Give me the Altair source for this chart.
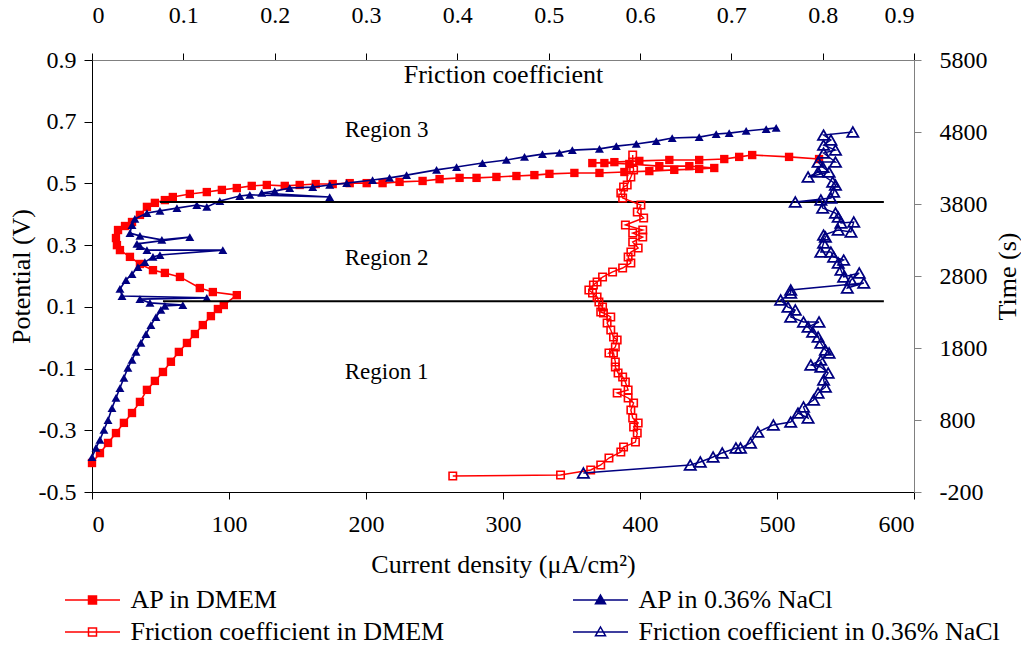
import altair as alt
import pandas as pd

FONT = "Liberation Serif"

# ---------------- data ----------------
# Anodic polarisation in DMEM: current density (uA/cm2) vs potential (V)
ap_dmem_cd = [0, 5.8, 11.7, 17.5, 23.3, 29.2, 35, 40.1, 45.9, 51.8, 57.6, 63.4, 69.3, 75.1, 80.9, 86.8, 91.9, 96.2,
              105.7, 88.2, 78.7, 64.2, 53.2, 44.5, 35, 27.7, 20.4, 18.2, 17.5, 19, 24.1, 29.2, 35, 40.1, 45.9, 53.2, 59,
              71.4, 83.8, 94.8, 105.7, 116.6, 127.6, 140.7, 151.6, 163.3, 175.7, 188.1, 200.5, 212.1, 224.5, 241.3,
              253.7, 268.3, 280.7, 295.2, 309.8, 322.9, 333.9, 352.1, 370.4, 388.6, 406.8, 425, 443.2, 454.2, 436,
              414.1, 392.2, 374, 365.2, 381.3, 399.5, 421.4, 443.2, 461.5, 472.4, 481.9, 508.8, 530.7]
ap_dmem_pot = [-0.406, -0.374, -0.341, -0.309, -0.276, -0.244, -0.208, -0.169, -0.140, -0.111, -0.078, -0.046,
               -0.017, 0.012, 0.041, 0.070, 0.093, 0.106, 0.138, 0.148, 0.161, 0.197, 0.210, 0.219, 0.239, 0.262,
               0.284, 0.300, 0.323, 0.349, 0.362, 0.375, 0.398, 0.424, 0.437, 0.446, 0.456, 0.466, 0.472, 0.479,
               0.485, 0.492, 0.495, 0.492, 0.495, 0.498, 0.498, 0.501, 0.501, 0.501, 0.505, 0.508, 0.514, 0.518,
               0.518, 0.521, 0.524, 0.527, 0.531, 0.534, 0.534, 0.537, 0.540, 0.544, 0.547, 0.550, 0.556, 0.556,
               0.563, 0.566, 0.566, 0.569, 0.573, 0.576, 0.576, 0.579, 0.586, 0.592, 0.586, 0.579]

# Anodic polarisation in 0.36% NaCl
ap_nacl_cd = [0, 2.9, 5.8, 8.7, 11.7, 14.6, 17.5, 20.4, 23.3, 26.2, 29.2, 32.1, 35.7, 39.4, 43, 46.7, 50.3, 53.2,
              66.3, 42.3, 35, 83.8, 21.9, 20.4, 24.8, 29.2, 33.5, 38.6, 44.5, 49.6, 95.5, 40.1, 35, 32.8, 71.4, 51,
              35, 27.7, 29.2, 31.3, 40.1, 49.6, 62, 76.5, 83.8, 93.3, 107.9, 115.2, 173.5, 123.9, 133.4, 144.3,
              161.1, 173.5, 185.9, 204.8, 217.2, 229.6, 251.5, 266.1, 285, 302.5, 315.7, 328.8, 341.2, 350.6,
              370.4, 382.7, 397.3, 411.9, 423.5, 443.2, 455.6, 465.1, 477.5, 492.1, 499.4]
ap_nacl_pot = [-0.387, -0.357, -0.331, -0.299, -0.267, -0.228, -0.195, -0.163, -0.130, -0.098, -0.072, -0.046,
               -0.017, 0.012, 0.041, 0.067, 0.090, 0.103, 0.106, 0.113, 0.125, 0.129, 0.135, 0.158, 0.187, 0.206,
               0.229, 0.245, 0.262, 0.268, 0.284, 0.284, 0.297, 0.304, 0.326, 0.317, 0.330, 0.339, 0.365, 0.385,
               0.404, 0.411, 0.420, 0.430, 0.424, 0.443, 0.459, 0.463, 0.456, 0.469, 0.475, 0.485, 0.488, 0.495,
               0.501, 0.511, 0.518, 0.527, 0.544, 0.553, 0.566, 0.576, 0.586, 0.595, 0.599, 0.608, 0.612, 0.621,
               0.628, 0.637, 0.647, 0.650, 0.660, 0.663, 0.670, 0.676, 0.680]

# Friction coefficient in DMEM vs time (s)
fr_dmem_f = [0.395, 0.513, 0.546, 0.557, 0.566, 0.579, 0.582, 0.595, 0.597, 0.593, 0.598, 0.592, 0.590, 0.593,
             0.587, 0.575, 0.587, 0.584, 0.581, 0.576, 0.573, 0.573, 0.571, 0.566, 0.573, 0.575, 0.571, 0.568,
             0.564, 0.568, 0.560, 0.557, 0.559, 0.555, 0.553, 0.548, 0.544, 0.549, 0.553, 0.559, 0.570, 0.581,
             0.590, 0.587, 0.590, 0.598, 0.592, 0.603, 0.592, 0.603, 0.584, 0.604, 0.597, 0.601, 0.581, 0.579,
             0.582, 0.586, 0.590, 0.593, 0.592, 0.592]
fr_dmem_t = [22, 36, 106, 175, 272, 356, 425, 494, 619, 703, 758, 828, 939, 1036, 1106, 1175, 1217, 1328, 1397,
             1453, 1536, 1606, 1731, 1731, 1814, 1911, 1953, 2050, 2147, 2231, 2286, 2300, 2369, 2439, 2508, 2564,
             2606, 2675, 2717, 2786, 2856, 2911, 2981, 3064, 3133, 3189, 3272, 3342, 3397, 3439, 3508, 3606, 3689,
             3786, 3883, 3953, 4036, 4064, 4175, 4272, 4383, 4481]

# Friction coefficient in 0.36% NaCl vs time (s)
fr_nacl_f = [0.538, 0.655, 0.666, 0.680, 0.690, 0.705, 0.710, 0.721, 0.729, 0.746, 0.765, 0.773, 0.784, 0.779,
             0.790, 0.795, 0.803, 0.801, 0.806, 0.798, 0.787, 0.798, 0.807, 0.803, 0.798, 0.795, 0.789, 0.784,
             0.796, 0.779, 0.765, 0.770, 0.762, 0.754, 0.765, 0.765, 0.845, 0.827, 0.831, 0.840, 0.823, 0.820,
             0.817, 0.823, 0.812, 0.809, 0.798, 0.801, 0.803, 0.801, 0.817, 0.831, 0.834, 0.820, 0.817, 0.814,
             0.800, 0.798, 0.770, 0.809, 0.812, 0.814, 0.811, 0.795, 0.784, 0.807, 0.800, 0.795, 0.814, 0.801,
             0.814, 0.801, 0.809, 0.801, 0.833]
fr_nacl_t = [64, 175, 217, 286, 342, 411, 411, 481, 633, 731, 772, 897, 828, 981, 1078, 1175, 1258, 1356, 1453,
             1536, 1564, 1633, 1731, 1772, 1869, 1953, 2022, 2092, 2161, 2161, 2231, 2328, 2369, 2467, 2564, 2606,
             2703, 2633, 2744, 2842, 2786, 2883, 2981, 3022, 3064, 3133, 3133, 3258, 3342, 3369, 3439, 3411, 3550,
             3536, 3619, 3675, 3744, 3856, 3828, 3883, 3967, 4064, 4106, 4244, 4175, 4244, 4314, 4383, 4383, 4508,
             4550, 4619, 4689, 4758, 4800]

# region boundaries (potential) and their extent in current density
bound_pot = [0.44, 0.118]
bound_cd_start = [49.6, 51.8]
bound_cd_end = [578, 578]

region_labels = ["Region 3", "Region 2", "Region 1"]
region_cd = [215, 215, 215]
region_pot = [0.673, 0.258, -0.111]

series_names = ["AP in DMEM", "AP in 0.36% NaCl",
                "Friction coefficient in DMEM", "Friction coefficient in 0.36% NaCl"]
series_stroke = ["#ff0000", "#000080", "#ff0000", "#000080"]
series_fill = ["#ff0000", "#000080", "#ffffff", "#ffffff"]

# legend symbols: a line with a marker on it
SQ = "M-2.75,0L2.75,0M-0.4,-0.4L0.4,-0.4L0.4,0.4L-0.4,0.4Z"
TR = "M-2.75,0L2.75,0M0,-0.5L0.5,0.38L-0.5,0.38Z"
series_shape = [SQ, TR, SQ, TR]


def frame(xs, ys, xn, yn):
    return pd.DataFrame({xn: xs, yn: ys, "i": list(range(len(xs)))})


d_ap_dmem = frame(ap_dmem_cd, ap_dmem_pot, "cd", "pot")
d_ap_nacl = frame(ap_nacl_cd, ap_nacl_pot, "cd", "pot")
d_fr_dmem = frame(fr_dmem_f, fr_dmem_t, "f", "t")
d_fr_nacl = frame(fr_nacl_f, fr_nacl_t, "f", "t")
d_bound = pd.DataFrame({"pot": bound_pot, "cd": bound_cd_start, "cd2": bound_cd_end})
d_region = pd.DataFrame({"label": region_labels, "cd": region_cd, "pot": region_pot})
d_leg = pd.DataFrame({"s": series_names, "cd": [300] * 4, "pot": [0.2] * 4})

HYPHEN = "replace(datum.label, '\u2212', '-')"

# ---------------- scales / axes ----------------
x_cd = alt.X("cd:Q", scale=alt.Scale(domain=[0, 600], nice=False, zero=False),
             axis=alt.Axis(values=[0, 100, 200, 300, 400, 500, 600], orient="bottom", grid=False,
                           domainColor="black", tickColor="black", tickSize=7, labelPadding=13,
                           labelFont=FONT, labelFontSize=24, labelColor="black",
                           title="Current density (μA/cm²)", titleFont=FONT, titleFontSize=26,
                           titleFontWeight="normal", titleColor="black", titlePadding=15))
y_pot = alt.Y("pot:Q", scale=alt.Scale(domain=[-0.5, 0.9], nice=False, zero=False),
              axis=alt.Axis(values=[-0.5, -0.3, -0.1, 0.1, 0.3, 0.5, 0.7, 0.9], format=".1f", labelExpr=HYPHEN,
                            orient="left", grid=False, domainColor="black", tickColor="black", tickSize=8,
                            labelPadding=8, labelFont=FONT, labelFontSize=24, labelColor="black",
                            title="Potential (V)", titleFont=FONT, titleFontSize=26, titleFontWeight="normal",
                            titleColor="black", titlePadding=4))
x_f = alt.X("f:Q", scale=alt.Scale(domain=[0, 0.9], nice=False, zero=False),
            axis=alt.Axis(values=[0, 0.1, 0.2, 0.3, 0.4, 0.5, 0.6, 0.7, 0.8, 0.9], format=".1~f", orient="top",
                          grid=False, domainColor="#808080", tickColor="black", tickSize=7, labelPadding=26,
                          labelFont=FONT, labelFontSize=24, labelColor="black",
                          title="Friction coefficient", titleFont=FONT, titleFontSize=26,
                          titleFontWeight="normal", titleColor="black", titleY=14, titleBaseline="middle"))
y_t = alt.Y("t:Q", scale=alt.Scale(domain=[-200, 5800], nice=False, zero=False),
            axis=alt.Axis(values=[-200, 800, 1800, 2800, 3800, 4800, 5800], format="d", labelExpr=HYPHEN,
                          orient="right", grid=False, domainColor="#808080", tickColor="#808080", tickSize=7,
                          labelPadding=18, labelFont=FONT, labelFontSize=24, labelColor="black",
                          title="Time (s)", titleFont=FONT, titleFontSize=26, titleFontWeight="normal",
                          titleColor="black", titleAngle=270, titlePadding=33))

order = alt.Order("i:Q")

# ---------------- AP layer ----------------
ap_dmem_line = alt.Chart(d_ap_dmem).mark_line(color="#ff0000", strokeWidth=1.6).encode(x=x_cd, y=y_pot, order=order)
ap_dmem_pts = alt.Chart(d_ap_dmem).mark_point(shape="square", filled=True, color="#ff0000", size=70,
                                             opacity=1).encode(x=x_cd, y=y_pot)
ap_nacl_line = alt.Chart(d_ap_nacl).mark_line(color="#000080", strokeWidth=1.6).encode(x=x_cd, y=y_pot, order=order)
ap_nacl_pts = alt.Chart(d_ap_nacl).mark_point(shape="triangle-up", filled=True, color="#000080", size=80,
                                             opacity=1).encode(x=x_cd, y=y_pot)
bounds = alt.Chart(d_bound).mark_rule(color="black", strokeWidth=2).encode(x=x_cd, x2="cd2:Q", y=y_pot)
regions = alt.Chart(d_region).mark_text(font=FONT, fontSize=23, color="black").encode(
    x=x_cd, y=y_pot, text="label:N")

legend_layer = alt.Chart(d_leg).mark_point(opacity=0, strokeWidth=1.5).encode(
    x=x_cd, y=y_pot,
    shape=alt.Shape("s:N", scale=alt.Scale(domain=series_names, range=series_shape),
                    legend=alt.Legend(orient="none", legendX=-12.5, legendY=527, columns=2, columnPadding=125,
                                      rowPadding=6, symbolSize=400, symbolStrokeWidth=1.5, symbolOpacity=1,
                                      labelOffset=25, labelFont=FONT, labelFontSize=26, labelColor="black",
                                      labelLimit=0, padding=0, title=None, direction="horizontal")),
    stroke=alt.Stroke("s:N", scale=alt.Scale(domain=series_names, range=series_stroke), legend=None),
    fill=alt.Fill("s:N", scale=alt.Scale(domain=series_names, range=series_fill), legend=None),
)

ap_layer = alt.layer(ap_dmem_line, ap_dmem_pts, ap_nacl_line, ap_nacl_pts, bounds, regions, legend_layer)

# ---------------- friction layer ----------------
fr_dmem_line = alt.Chart(d_fr_dmem).mark_line(color="#ff0000", strokeWidth=1.4).encode(x=x_f, y=y_t, order=order)
fr_dmem_pts = alt.Chart(d_fr_dmem).mark_point(shape="square", filled=False, color="#ff0000", size=55,
                                             strokeWidth=1.6, opacity=1).encode(x=x_f, y=y_t)
fr_nacl_line = alt.Chart(d_fr_nacl).mark_line(color="#000080", strokeWidth=1.4).encode(x=x_f, y=y_t, order=order)
fr_nacl_pts = alt.Chart(d_fr_nacl).mark_point(shape="triangle-up", filled=False, color="#000080", size=125,
                                             strokeWidth=1.8, opacity=1).encode(x=x_f, y=y_t)

fr_layer = alt.layer(fr_dmem_line, fr_dmem_pts, fr_nacl_line, fr_nacl_pts)

chart = alt.layer(ap_layer, fr_layer).resolve_scale(x="independent", y="independent").properties(
    width=822, height=432,
    autosize=alt.AutoSizeParams(type="none"),
    padding={"left": 92, "top": 60, "right": 107, "bottom": 156},
    background="white",
).configure(font=FONT).configure_view(stroke=None).configure_axis(
    labelFont=FONT, titleFont=FONT).configure_legend(labelFont=FONT)

chart.save("out.html", embed_options={"renderer": "svg", "actions": False})
